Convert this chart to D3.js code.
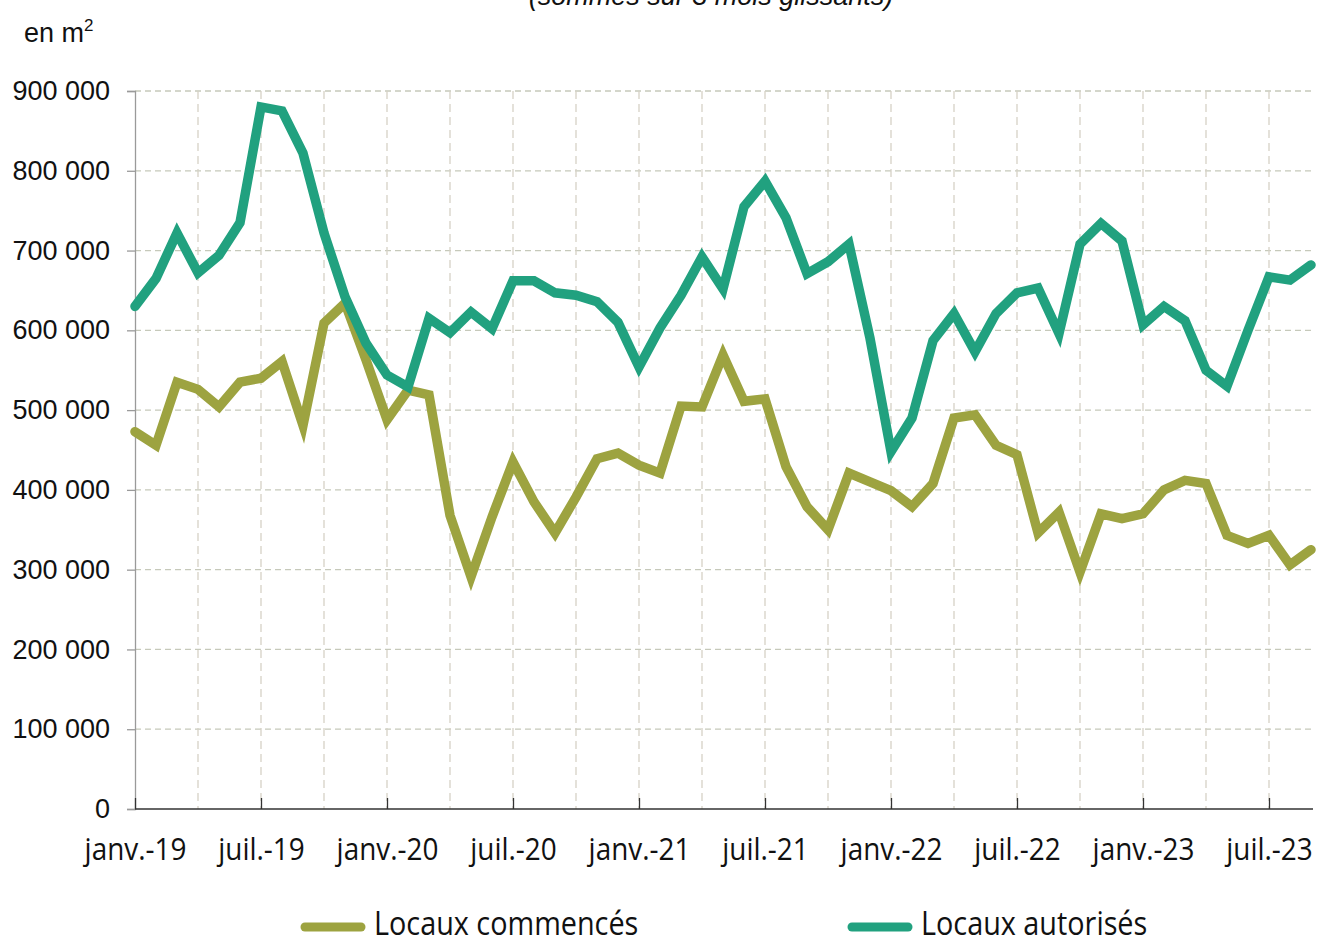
<!DOCTYPE html>
<meta charset="utf-8">
<html>
<style>
 body { margin:0; background:#fff; }
 svg { display:block; }
 .ylab { font-family:"Liberation Sans", Arial, sans-serif; font-size:27px; fill:#111; }
 .xlab { font-family:"Open Sans", sans-serif; font-size:31px; fill:#111; }
 .leg { font-family:"Open Sans", sans-serif; font-size:32px; fill:#111; }
</style>
<script src="https://d3js.org/d3.v7.min.js"></script>
<svg width="1317" height="940"></svg>
<script>
// surfaces in m2, monthly from janv.-19 to sept.-23
const commences = [473,456,535,526,504,535,540,561,481,609,634,563,488,525,519,368,291,366,435,385,
	346,391,439,446,431,421,505,504,569,511,514,429,379,350,421,410,399,379,408,490,
	494,456,444,346,372,297,370,364,370,400,412,408,343,333,343,306,325].map(d=>d*1000);
const autorises = [630,665,722,672,694,735,880,875,822,722,642,584,544,529,615,597,623,602,662,662,
	647,644,636,610,554,603,644,692,652,755,787,741,671,686,708,590,448,490,587,621,
	573,621,647,653,596,708,734,712,607,630,612,550,530,600,667,663,682].map(d=>d*1000);
const tickLabels = ["janv.-19","juil.-19","janv.-20","juil.-20","janv.-21","juil.-21",
	"janv.-22","juil.-22","janv.-23","juil.-23"];
const yTicks = [0,100000,200000,300000,400000,500000,600000,700000,800000,900000];
const seriesNames = ["Locaux commencés","Locaux autorisés"];
const colors = ["#9da340","#21a17f"];

const svg = d3.select('svg');
const plotL = 135, plotR = 1311, plotT = 91, plotB = 809;
const condense = 0.9;

const x = d3.scaleLinear().domain([0, commences.length-1]).range([plotL, plotR]);
const y = d3.scaleLinear().domain([0, 900000]).range([plotB, plotT]);

// title (cut at the top)
svg.append('text')
	.attr('x',711).attr('y',5)
	.attr('text-anchor','middle')
	.attr('font-family','"Liberation Sans", Arial, sans-serif')
	.attr('font-style','italic')
	.attr('font-size',27)
	.attr('fill','#111')
	.text('(sommes sur 3 mois glissants)');

svg.append('text')
	.attr('x',24).attr('y',42)
	.attr('class','ylab')
	.html('en m<tspan dy="-11" font-size="17">2</tspan>');

// horizontal grid
svg.append('g')
	.selectAll('line')
	.data(yTicks.filter(d=>d>0))
	.join('line')
	.attr('x1',plotL).attr('x2',plotR+2)
	.attr('y1',d=>y(d)).attr('y2',d=>y(d))
	.attr('stroke','#c6c9ba')
	.attr('stroke-width',1.3)
	.attr('stroke-dasharray','6,4');

// vertical grid, every 3 months
const quarters = d3.range(3, commences.length, 3);
svg.append('g')
	.selectAll('line')
	.data(quarters)
	.join('line')
	.attr('x1',d=>x(d)).attr('x2',d=>x(d))
	.attr('y1',plotT).attr('y2',plotB)
	.attr('stroke','#d6d2c6')
	.attr('stroke-width',1.3)
	.attr('stroke-dasharray','8,5');

// y axis
const yAxis = d3.axisLeft(y)
	.tickValues(yTicks)
	.tickSize(8)
	.tickPadding(17)
	.tickFormat(d=>d3.format(',')(d).replace(/,/g,' '));
const gy = svg.append('g')
	.attr('transform',`translate(${plotL},0)`)
	.call(yAxis);
gy.select('.domain').attr('stroke','#9a9a9a').attr('stroke-width',1.3);
gy.selectAll('.tick line').attr('stroke','#9a9a9a').attr('stroke-width',1.3);
gy.selectAll('.tick text').attr('class','ylab').attr('fill','#111');

// x axis, ticks every 6 months, pointing up
const halfYears = d3.range(0, commences.length, 6);
const xAxis = d3.axisBottom(x)
	.tickValues(halfYears)
	.tickSizeInner(-11)
	.tickSizeOuter(0)
	.tickPadding(0)
	.tickFormat((d,i)=>tickLabels[i]);
const gx = svg.append('g')
	.attr('transform',`translate(0,${plotB})`)
	.call(xAxis);
gx.select('.domain').attr('d',`M${plotL},0H${plotR+2}`).attr('stroke','#333').attr('stroke-width',1.5);
gx.selectAll('.tick line').attr('stroke','#333').attr('stroke-width',1.3);
gx.selectAll('.tick text')
	.attr('class','xlab')
	.attr('y',51)
	.attr('dy',0)
	.attr('transform',`scale(${condense},1)`);

// lines
const line = d3.line()
	.x((d,i)=>x(i))
	.y(d=>y(d));

[commences, autorises].forEach((s,k)=>{
	svg.append('path')
		.datum(s)
		.attr('fill','none')
		.attr('stroke',colors[k])
		.attr('stroke-width',9.5)
		.attr('stroke-linejoin','miter')
		.attr('stroke-linecap','round')
		.attr('d',line);
});

// legend
const legendX = [305, 852];
seriesNames.forEach((name,k)=>{
	const g = svg.append('g').attr('transform',`translate(${legendX[k]},927)`);
	g.append('line')
		.attr('x1',0).attr('x2',56)
		.attr('y1',0).attr('y2',0)
		.attr('stroke',colors[k])
		.attr('stroke-width',9)
		.attr('stroke-linecap','round');
	g.append('text')
		.attr('class','leg')
		.attr('transform',`translate(69,8) scale(${condense},1)`)
		.text(name);
});
</script>
</html>
